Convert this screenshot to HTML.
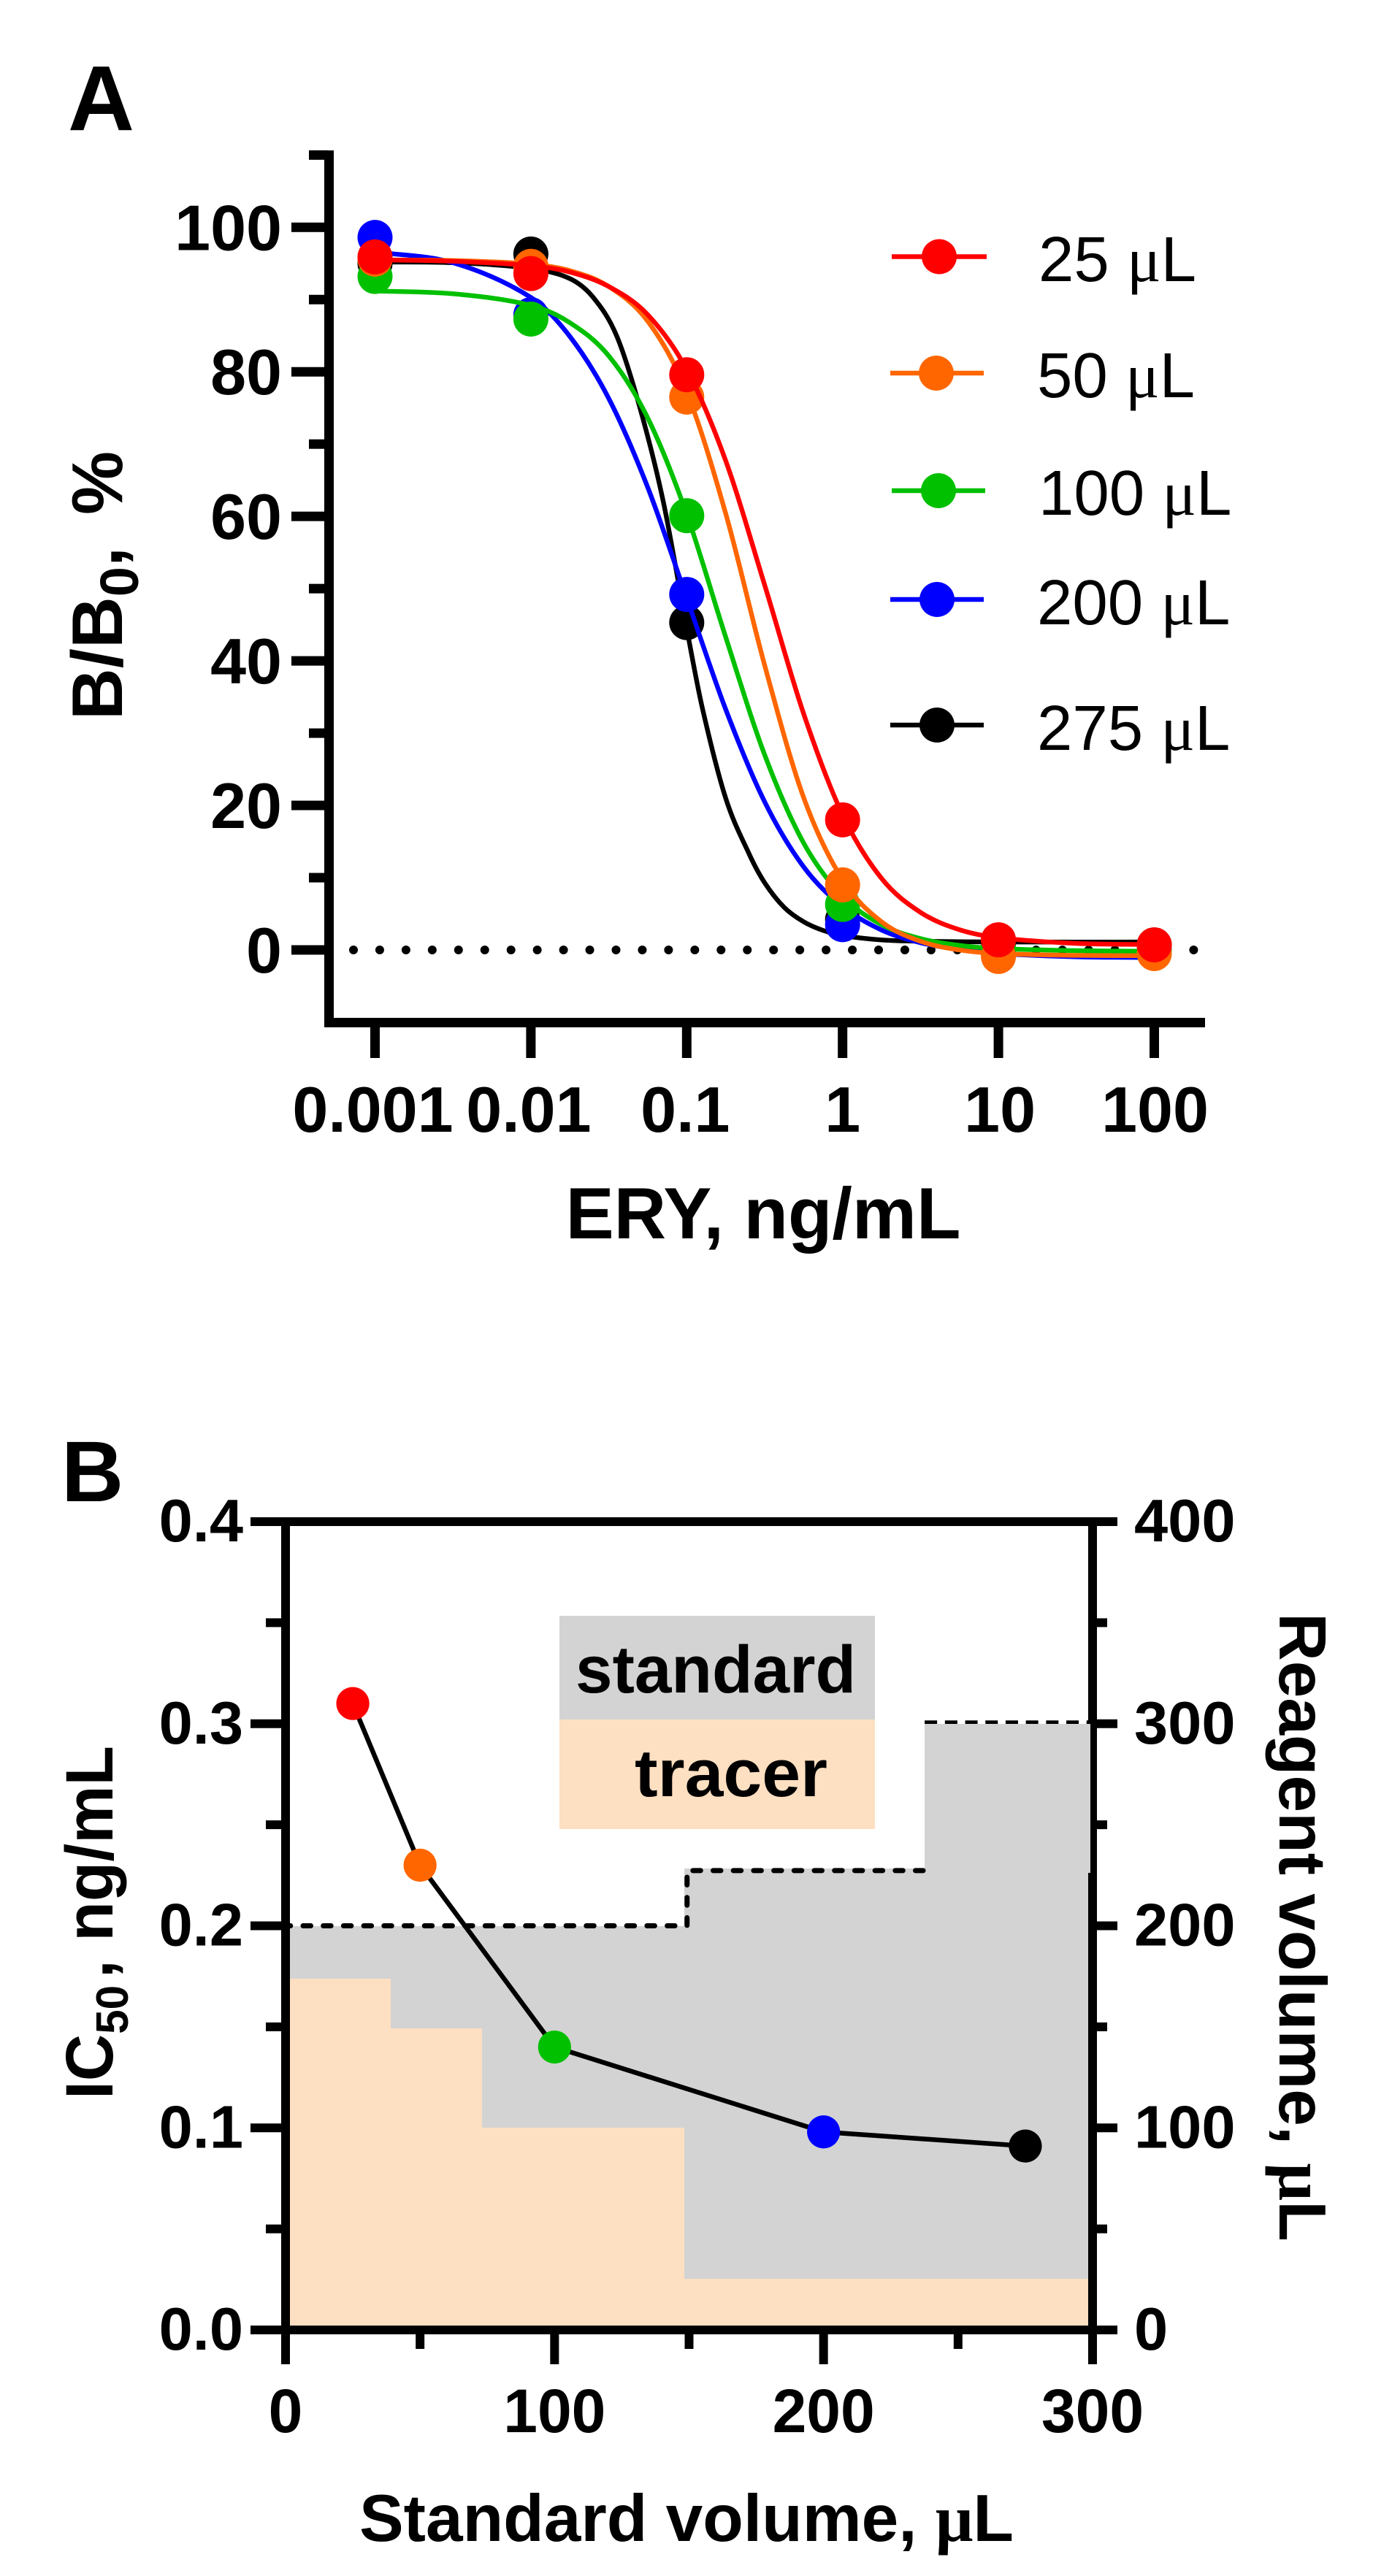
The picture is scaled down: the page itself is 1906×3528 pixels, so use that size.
<!DOCTYPE html>
<html lang="en">
<head>
<meta charset="utf-8">
<title>ERY competitive assay charts</title>
<style>
html,body{margin:0;padding:0;background:#fff;}
svg{display:block;}
text{font-family:"Liberation Sans",Arial,sans-serif;fill:#000;}
.b{font-weight:bold;}
.mu{font-family:"Liberation Serif","Times New Roman",serif;}
</style>
</head>
<body>
<svg id="chart" xmlns="http://www.w3.org/2000/svg" width="1906" height="3528" viewBox="0 0 1906 3528">
  <rect x="0" y="0" width="1906" height="3528" fill="#fff"/>
  <g id="panelA"></g>
  <g id="panelB"></g>

  <text class="b" x="93" y="178" font-size="126">A</text>
  <text class="b" font-size="98" transform="translate(167,986) rotate(-90)">B/B<tspan dy="22" font-size="74">0</tspan><tspan dy="-22">,</tspan><tspan x="281">%</tspan></text>
  <text class="b" font-size="99" x="1045" y="1696" text-anchor="middle">ERY, ng/mL</text>

  <text class="b" x="84" y="2056" font-size="118">B</text>
  <text class="b" font-size="92" transform="translate(154,2875) rotate(-90) scale(0.97,1)">IC<tspan x="92" dy="21" font-size="62">50</tspan><tspan x="171" dy="-21">,</tspan><tspan x="223">ng/mL</tspan></text>
  <text class="b" font-size="91" transform="translate(1752,2209) rotate(90)">Reagent volume, <tspan class="mu">&#956;</tspan>L</text>
  <text class="b" font-size="91" x="940" y="3480" text-anchor="middle">Standard volume, <tspan class="mu">&#956;</tspan>L</text>
</svg>
<script>
// ---------- Panel A data ----------
const concLabels = ["0.001", "0.01", "0.1", "1", "10", "100"];
const concLogs = [-3, -2, -1, 0, 1, 2];
const yTicksA = [0, 20, 40, 60, 80, 100];
const yMinorTicksA = [10, 30, 50, 70, 90, 110];

const seriesNames = ["275 µL", "200 µL", "100 µL", "50 µL", "25 µL"];
const pointsBlack = [95.0, 96.3, 45.3, 4.2, 1.0, 0.7];
const pointsBlue = [98.6, 87.9, 49.2, 3.5, 0.0, -0.2];
const pointsGreen = [93.2, 87.3, 60.1, 6.3, 0.2, -0.2];
const pointsOrange = [95.6, 94.6, 76.5, 9.0, -0.9, -0.5];
const pointsRed = [95.9, 93.6, 79.6, 18.0, 1.4, 0.7];

const curveLogs = [-3, -2.5, -2, -1.75, -1.5, -1.25, -1, -0.75, -0.5, -0.25, 0, 0.25, 0.5, 0.75, 1, 1.5, 2];
const curveBlue = [96.6, 95.1, 90.3, 84.9, 76.3, 64.0, 48.7, 33.3, 20.5, 11.5, 6.0, 2.76, 1.0, 0.05, -0.5, -0.95, -1.05];
const curveGreen = [91.2, 90.8, 89.2, 86.8, 82.2, 73.6, 60.3, 43.3, 27.0, 14.8, 7.4, 3.5, 1.57, 0.63, 0.19, -0.1, -0.2];
const curveOrange = [95.5, 95.4, 94.9, 94.0, 91.8, 87.0, 77.2, 60.4, 39.4, 21.1, 9.7, 3.9, 1.2, 0.0, -0.5, -0.75, -0.8];
const curveRed = [95.5, 95.3, 94.7, 93.8, 91.8, 87.9, 80.3, 67.7, 50.5, 32.7, 18.7, 9.9, 5.2, 2.8, 1.7, 0.9, 0.75];
const curveBlackLogs = [-3, -2.5, -2, -1.75, -1.6, -1.45, -1.3, -1.15, -1, -0.9, -0.75, -0.6, -0.5, -0.375, -0.25, -0.125, 0, 0.25, 0.5, 1, 2];
const curveBlack = [95.2, 95.1, 94.3, 92.9, 90.3, 85.0, 75.0, 62.0, 44.5, 33.5, 21.0, 13.3, 9.3, 5.9, 3.9, 2.7, 2.0, 1.38, 1.2, 1.1, 1.1];

// ---------- Panel B data ----------
const xTicksB = [0, 100, 200, 300];
const xMinorTicksB = [50, 150, 250];
const leftTicksB = ["0.0", "0.1", "0.2", "0.3", "0.4"];
const leftTickValues = [0, 0.1, 0.2, 0.3, 0.4];
const leftMinorValues = [0.05, 0.15, 0.25, 0.35];
const rightTicksB = [0, 100, 200, 300, 400];
const standardVolumes = [25, 50, 100, 200, 275];
const ic50Values = [0.31, 0.23, 0.14, 0.098, 0.091];
const standardEdges = [0, 148.3, 237.6, 300];
const standardTops = [200, 228.4, 300];
const tracerEdges = [0, 39.1, 73, 148.3, 300];
const tracerTops = [173.8, 149.2, 100, 25.3];

// ---------- helpers ----------
const NS = "http://www.w3.org/2000/svg";
const gA = document.getElementById("panelA");
const gB = document.getElementById("panelB");
function mk(parent, tag, attrs) {
  const el = document.createElementNS(NS, tag);
  for (const k in attrs) el.setAttribute(k, attrs[k]);
  parent.appendChild(el);
  return el;
}
function smoothPath(px, py) {
  let d = "M" + px[0].toFixed(2) + " " + py[0].toFixed(2);
  const n = px.length;
  const slope = i => {
    const a = Math.max(i - 1, 0), b = Math.min(i + 1, n - 1);
    return (py[b] - py[a]) / (px[b] - px[a]);
  };
  for (let i = 0; i < n - 1; i++) {
    const h = (px[i + 1] - px[i]) / 3;
    d += "C" + (px[i] + h).toFixed(2) + " " + (py[i] + slope(i) * h).toFixed(2) + " " +
      (px[i + 1] - h).toFixed(2) + " " + (py[i + 1] - slope(i + 1) * h).toFixed(2) + " " +
      px[i + 1].toFixed(2) + " " + py[i + 1].toFixed(2);
  }
  return d;
}

// ---------- Panel A axes functions ----------
const xA = l => 940.3 + (l + 1) * 213.4;
const yA = v => 1301 - v * 9.897;
let el;

// dotted zero line
el = mk(gA, "line", {x1: 484, x2: 1640, y1: yA(0), y2: yA(0), stroke: "#000", "stroke-width": 12, "stroke-linecap": "round", "stroke-dasharray": "0 35.95"});



// axes
el = mk(gA, "rect", {x: 444, y: 206, width: 13, height: 1201, fill: "#000"});


el = mk(gA, "rect", {x: 444, y: 1394, width: 1206, height: 13, fill: "#000"});



yTicksA.forEach(v => {
  const t = mk(gA, "rect", {x: 399, y: yA(v) - 6.5, width: 50, height: 13, fill: "#000"});
  
  
  const l = mk(gA, "text", {x: 386, y: yA(v) + 31, "text-anchor": "end", "font-size": 88, "font-weight": "bold"});
  
  
  l.textContent = String(v);
});
yMinorTicksA.forEach(v => {
  const t = mk(gA, "rect", {x: 423, y: yA(v) - 6.5, width: 26, height: 13, fill: "#000"});
  
  
});
concLogs.forEach((c, i) => {
  const t = mk(gA, "rect", {x: xA(c) - 6.5, y: 1400, width: 13, height: 49, fill: "#000"});
  
  
  const nudge = [-3, -3, -2, 0, 2, 1][i];
  const l = mk(gA, "text", {x: xA(c) + nudge, y: 1550, "text-anchor": "middle", "font-size": 88, "font-weight": "bold"});
  
  
  l.textContent = concLabels[i];
});

// series, back to front
const seriesColors = ["#000000", "#0000FF", "#00C000", "#FF6600", "#FF0000"];
const seriesKeys = ["275", "200", "100", "50", "25"];
const allPoints = [pointsBlack, pointsBlue, pointsGreen, pointsOrange, pointsRed];
const allCurves = [curveBlack, curveBlue, curveGreen, curveOrange, curveRed];
const allCurveLogs = [curveBlackLogs, curveLogs, curveLogs, curveLogs, curveLogs];
allCurves.forEach((curve, s) => {
  const group = mk(gA, "g", {});
  
  
  const path = mk(group, "path", {d: smoothPath(allCurveLogs[s].map(xA), curve.map(yA)), fill: "none", stroke: seriesColors[s], "stroke-width": 6.4});
  
  
  allPoints[s].forEach((v, i) => {
    const c = mk(group, "circle", {cx: xA(concLogs[i]), cy: yA(v), r: 24, fill: seriesColors[s]});
    
    
  });
});

// legend, geometry belongs to the legend not to the data
const legendRows = [
  {k: "25", c: "#FF0000", y: 351.5, cx: 1286, x1: 1221, x2: 1351, tx: 1422, ty: 385},
  {k: "50", c: "#FF6600", y: 511, cx: 1282, x1: 1219, x2: 1347, tx: 1420, ty: 544},
  {k: "100", c: "#00C000", y: 672, cx: 1285, x1: 1221, x2: 1349, tx: 1422, ty: 705},
  {k: "200", c: "#0000FF", y: 821, cx: 1283, x1: 1219, x2: 1347, tx: 1420, ty: 855},
  {k: "275", c: "#000000", y: 993, cx: 1283, x1: 1219, x2: 1347, tx: 1420, ty: 1027}
];
legendRows.forEach(r => {
  const line = mk(gA, "line", {x1: r.x1, x2: r.x2, y1: r.y, y2: r.y, stroke: r.c, "stroke-width": 6.5});
  
  
  const dot = mk(gA, "circle", {cx: r.cx, cy: r.y, r: 24, fill: r.c});
  
  
  const txt = mk(gA, "text", {x: r.tx, y: r.ty, "font-size": 87});
  
  
  txt.appendChild(document.createTextNode(r.k + " "));
  const mu = mk(txt, "tspan", {class: "mu"});
  mu.textContent = "\u03BC";
  txt.appendChild(document.createTextNode("L"));
});

// ---------- Panel B axes functions ----------
const xB = v => 391 + v * 3.6833;
const yLeft = v => 3191 - v * 2767.5;
const yRight = v => 3191 - v * 2.7675;
const GREY = "#D3D3D3", PEACH = "#FDDFC1";

standardTops.forEach((top, i) => {
  const x0 = Math.round(Math.max(xB(standardEdges[i]), 397)), x1 = Math.round(Math.min(xB(standardEdges[i + 1]), 1490));
  const r = mk(gB, "rect", {x: x0, y: Math.round(yRight(top)), width: x1 - x0, height: 3191 - Math.round(yRight(top)), fill: GREY});
  
  
});
tracerTops.forEach((top, i) => {
  const x0 = Math.round(Math.max(xB(tracerEdges[i]), 397)), x1 = Math.round(Math.min(xB(tracerEdges[i + 1]), 1490));
  const r = mk(gB, "rect", {x: x0, y: Math.round(yRight(top)), width: x1 - x0, height: 3191 - Math.round(yRight(top)), fill: PEACH});
  
  
});

// frame
el = mk(gB, "rect", {x: 385, y: 2078, width: 12, height: 1160, fill: "#000"});


el = mk(gB, "rect", {x: 1490, y: 2078, width: 12, height: 1160, fill: "#000"});


el = mk(gB, "rect", {x: 343, y: 2078, width: 1187, height: 12, fill: "#000"});


el = mk(gB, "rect", {x: 343, y: 3185, width: 1187, height: 12, fill: "#000"});



leftTickValues.forEach((v, i) => {
  const t = mk(gB, "rect", {x: 343, y: yLeft(v) - 6, width: 48, height: 12, fill: "#000"});
  
  
  const l = mk(gB, "text", {x: 333, y: yLeft(v) + 27, "text-anchor": "end", "font-size": 83, "font-weight": "bold"});
  
  
  l.textContent = leftTicksB[i];
});
leftMinorValues.forEach(v => {
  const t = mk(gB, "rect", {x: 364, y: yLeft(v) - 6, width: 27, height: 12, fill: "#000"});
  
  
  const r = mk(gB, "rect", {x: 1496, y: yLeft(v) - 6, width: 20, height: 12, fill: "#000"});
  
  
});
rightTicksB.forEach(v => {
  const t = mk(gB, "rect", {x: 1496, y: yRight(v) - 6, width: 34, height: 12, fill: "#000"});
  
  
  const l = mk(gB, "text", {x: 1553, y: yRight(v) + 27, "font-size": 83, "font-weight": "bold"});
  
  
  l.textContent = String(v);
});
xTicksB.forEach(v => {
  const t = mk(gB, "rect", {x: xB(v) - 6, y: 3191, width: 12, height: 47, fill: "#000"});
  
  
  const l = mk(gB, "text", {x: xB(v), y: 3331, "text-anchor": "middle", "font-size": 84, "font-weight": "bold"});
  
  
  l.textContent = String(v);
});
xMinorTicksB.forEach(v => {
  const t = mk(gB, "rect", {x: xB(v) - 6, y: 3191, width: 12, height: 26, fill: "#000"});
  
  
});

// dashed outline of the top step (half hidden by the grey block) then the block over the axis
el = mk(gB, "line", {x1: xB(standardEdges[2]), x2: 1490, y1: yRight(standardTops[2]) - 1, y2: yRight(standardTops[2]) - 1, stroke: "#000", "stroke-width": 7, "stroke-dasharray": "17 10.7"});


el = mk(gB, "rect", {x: Math.round(xB(standardEdges[2])), y: Math.round(yRight(standardTops[2])), width: 1493 - Math.round(xB(standardEdges[2])), height: Math.round(yRight(standardTops[1]) - yRight(standardTops[2])) + 6, fill: GREY});



// dashed outline of the lower steps
el = mk(gB, "path", {d: "M387.3 " + yRight(standardTops[0]) + "H" + (xB(standardEdges[1]) + 3.5) + "V" + (yRight(standardTops[1]) + 3) + "H" + (xB(standardEdges[2]) + 6), fill: "none", stroke: "#000", "stroke-width": 7, "stroke-linecap": "round", "stroke-dasharray": "10.5 17.2"});



// IC50 line
el = mk(gB, "polyline", {points: standardVolumes.map((v, i) => xB(v) + "," + yLeft(ic50Values[i])).join(" "), fill: "none", stroke: "#000", "stroke-width": 6.5});


const markerColors = ["#FF0000", "#FF6600", "#00C000", "#0000FF", "#000000"];
standardVolumes.forEach((v, i) => {
  const c = mk(gB, "circle", {cx: xB(v), cy: yLeft(ic50Values[i]), r: 22.6, fill: markerColors[i]});
  
  
});

// area legend
el = mk(gB, "rect", {x: 766, y: 2213, width: 432, height: 142, fill: GREY});


el = mk(gB, "rect", {x: 766, y: 2355, width: 432, height: 150, fill: PEACH});


el = mk(gB, "text", {x: 788, y: 2318, "font-size": 92, "font-weight": "bold", textLength: 384, lengthAdjust: "spacingAndGlyphs"});


el.textContent = "standard";
el = mk(gB, "text", {x: 869, y: 2460, "font-size": 92, "font-weight": "bold", textLength: 264, lengthAdjust: "spacingAndGlyphs"});


el.textContent = "tracer";
</script>
</body>
</html>
